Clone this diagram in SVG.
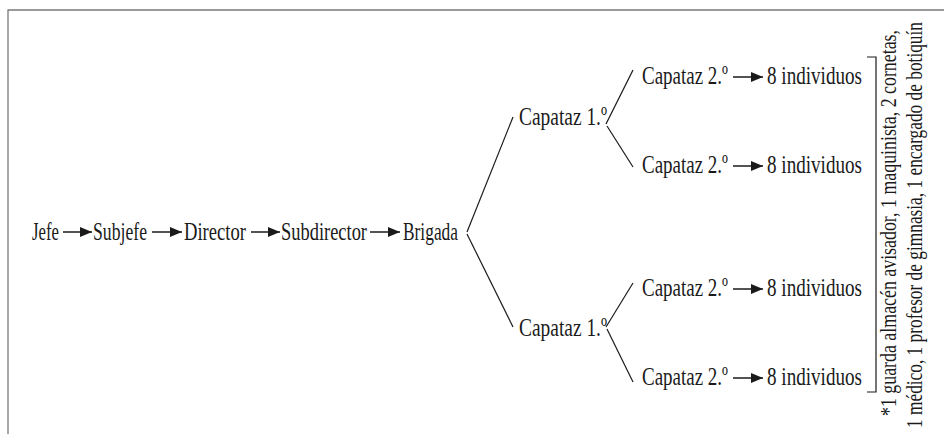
<svg xmlns="http://www.w3.org/2000/svg" width="944" height="434" viewBox="0 0 944 434">
  <defs>
    <style>
      .t { font-family: "Liberation Serif", "Times New Roman", serif; font-size: 26px; fill: #1a1a1a; }
      .n { font-family: "Liberation Serif", "Times New Roman", serif; font-size: 16.5px; fill: #1a1a1a; }
      .ln { stroke: #1a1a1a; stroke-width: 1.2; fill: none; }
      .ar { stroke: #1a1a1a; stroke-width: 1.5; fill: none; }
      .frame { stroke: #7a7a7a; stroke-width: 1.3; fill: none; }
    </style>
    <marker id="head" markerUnits="userSpaceOnUse" markerWidth="13" markerHeight="11" refX="12" refY="5" orient="auto">
      <path d="M0,0 L12,5 L0,10 z" fill="#1a1a1a"/>
    </marker>
  </defs>

  <!-- page frame -->
  <path class="frame" d="M8,434 V10 H944"/>

  <!-- chain of command -->
  <g id="jefe"><text class="t" x="32" y="240" textLength="27" lengthAdjust="spacingAndGlyphs">Jefe</text></g>
  <g id="subjefe"><text class="t" x="93" y="240" textLength="54" lengthAdjust="spacingAndGlyphs">Subjefe</text></g>
  <g id="director"><text class="t" x="184" y="240" textLength="62" lengthAdjust="spacingAndGlyphs">Director</text></g>
  <g id="subdirector"><text class="t" x="281" y="240" textLength="86" lengthAdjust="spacingAndGlyphs">Subdirector</text></g>
  <g id="brigada"><text class="t" x="403" y="240" textLength="55" lengthAdjust="spacingAndGlyphs">Brigada</text></g>

  <g id="capataz1-a"><text class="t" x="519" y="125" textLength="88" lengthAdjust="spacingAndGlyphs">Capataz 1.º</text></g>
  <g id="capataz1-b"><text class="t" x="519" y="336" textLength="88" lengthAdjust="spacingAndGlyphs">Capataz 1.º</text></g>

  <g id="capataz2-a"><text class="t" x="642" y="84" textLength="86" lengthAdjust="spacingAndGlyphs">Capataz 2.º</text></g>
  <g id="capataz2-b"><text class="t" x="642" y="173" textLength="86" lengthAdjust="spacingAndGlyphs">Capataz 2.º</text></g>
  <g id="capataz2-c"><text class="t" x="642" y="296" textLength="86" lengthAdjust="spacingAndGlyphs">Capataz 2.º</text></g>
  <g id="capataz2-d"><text class="t" x="642" y="385" textLength="86" lengthAdjust="spacingAndGlyphs">Capataz 2.º</text></g>

  <g id="individuos-a"><text class="t" x="767" y="84" textLength="95" lengthAdjust="spacingAndGlyphs">8 individuos</text></g>
  <g id="individuos-b"><text class="t" x="767" y="173" textLength="95" lengthAdjust="spacingAndGlyphs">8 individuos</text></g>
  <g id="individuos-c"><text class="t" x="767" y="296" textLength="95" lengthAdjust="spacingAndGlyphs">8 individuos</text></g>
  <g id="individuos-d"><text class="t" x="767" y="385" textLength="95" lengthAdjust="spacingAndGlyphs">8 individuos</text></g>

  <!-- footnote on the staff attached to the brigade; narrow face made by scaling glyph height -->
  <g id="nota">
    <path class="ln" d="M867,57 H876 V392 H867"/>
    <text class="n" transform="translate(896,416) rotate(-90) scale(1,1.4)" textLength="386" lengthAdjust="spacingAndGlyphs">*1 guarda almacén avisador, 1 maquinista, 2 cornetas,</text>
    <text class="n" transform="translate(922,428) rotate(-90) scale(1,1.4)" textLength="406" lengthAdjust="spacingAndGlyphs">1 médico, 1 profesor de gimnasia, 1 encargado de botiquín</text>
  </g>

  <g id="connectors">
    <!-- arrows along the main chain -->
    <line class="ar" x1="63" y1="232" x2="92" y2="232" marker-end="url(#head)"/>
    <line class="ar" x1="152" y1="232" x2="182" y2="232" marker-end="url(#head)"/>
    <line class="ar" x1="251" y1="232" x2="280" y2="232" marker-end="url(#head)"/>
    <line class="ar" x1="370" y1="232" x2="400" y2="232" marker-end="url(#head)"/>
    <!-- branches -->
    <line class="ln" x1="467" y1="232" x2="513" y2="117"/>
    <line class="ln" x1="467" y1="234" x2="513" y2="327"/>
    <line class="ln" x1="606" y1="124" x2="633" y2="70"/>
    <line class="ln" x1="607" y1="126" x2="633" y2="167"/>
    <line class="ln" x1="606" y1="327" x2="633" y2="283"/>
    <line class="ln" x1="607" y1="329" x2="633" y2="382"/>
    <!-- arrows to the squads -->
    <line class="ar" x1="733" y1="77" x2="763" y2="77" marker-end="url(#head)"/>
    <line class="ar" x1="733" y1="166" x2="763" y2="166" marker-end="url(#head)"/>
    <line class="ar" x1="733" y1="289" x2="763" y2="289" marker-end="url(#head)"/>
    <line class="ar" x1="733" y1="378" x2="763" y2="378" marker-end="url(#head)"/>
  </g>
</svg>
